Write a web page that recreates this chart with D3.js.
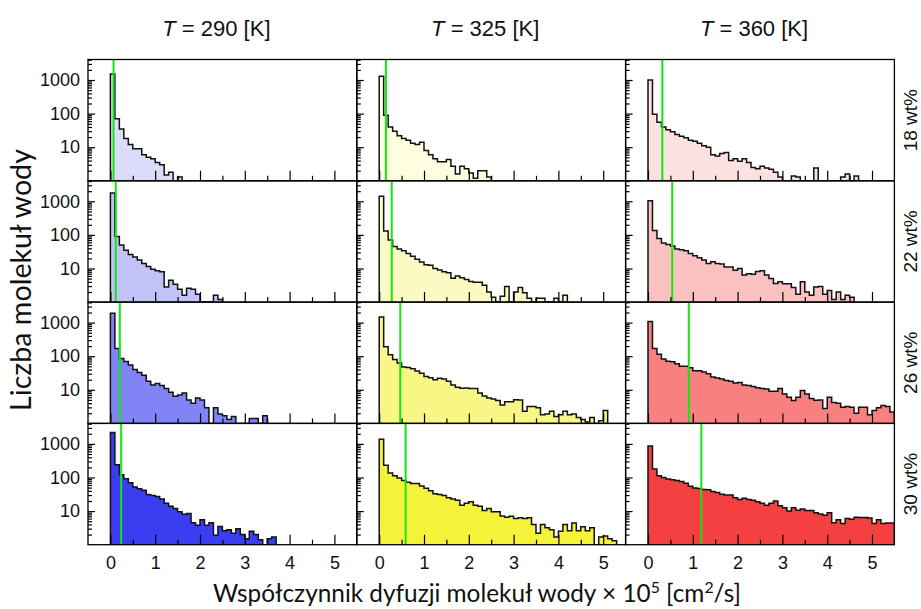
<!DOCTYPE html>
<html>
<head>
<meta charset="utf-8">
<script src="https://cdn.jsdelivr.net/npm/d3@7"></script>
<style>
  body { margin: 0; background: #fff; }
</style>
</head>
<body>
<svg id="chart" width="921" height="609"></svg>
<script>
// Dane: temperatury (kolumny), stężenia (wiersze)
const temps = ["290", "325", "360"];
const concentrations = ["18 wt%", "22 wt%", "26 wt%", "30 wt%"];
const binWidth = 0.1;
const xTicks = [0, 1, 2, 3, 4, 5];
const xMinorTicks = [0.5, 1.5, 2.5, 3.5, 4.5];
const yTicks = [10, 100, 1000];
const yMinorTicks = [2, 3, 4, 5, 6, 7, 8, 9, 20, 30, 40, 50, 60, 70, 80, 90,
  200, 300, 400, 500, 600, 700, 800, 900, 2000, 3000, 4000];

// liczba molekuł w kolejnych przedziałach (od 0, co 0.1)
const h18_290 = [1500, 70, 35, 18, 12, 9, 9, 6, 5, 4.5, 3.5, 3, 1.5, 1.8, 1, 1.3];
const h18_325 = [1300, 90, 40, 30, 22, 18, 16, 13, 12, 14, 8, 6, 4.5, 3.7, 3.7, 4.3, 2.7, 1.6, 2.7, 2.3,
  1.7, 1.2, 2, 2, 1.3];
const h18_360 = [1000, 95, 55, 40, 33, 29, 24, 21, 19, 16, 15, 13, 11, 10, 6, 5.5, 6.5, 7, 4, 4.5,
  3.8, 4.5, 3.5, 2.5, 2.3, 2.7, 2.4, 2.2, 1.8, 1.3, 0, 0, 1.4, 1.3, 0, 0, 0, 2.4, 0, 0,
  0, 0, 0, 1.3, 1.6, 0, 1.4];
const h22_290 = [1770, 90, 50, 35, 26, 22, 18, 14, 11.5, 9.5, 8.5, 8, 2.8, 4.5, 3.4, 2.4, 1.6, 2.6, 2.4, 1.7,
  0, 0, 0, 1.6, 1.2];
const h22_325 = [1410, 130, 70, 45, 38, 34, 28, 23, 19, 15.5, 13, 12.5, 10, 9, 8, 7.5, 5.1, 6, 5.3, 4.7,
  4.1, 3.9, 3.9, 3.2, 2, 1.4, 0, 1.5, 2.9, 1, 2, 2.7, 1.9, 1.3, 0, 1.3, 1.3, 0, 0, 1.3,
  0, 1.6];
const h22_360 = [1040, 135, 78, 57, 52, 47, 38, 36, 34, 28, 24, 21, 18, 14, 16, 14, 13.5, 11, 11, 8.8,
  10, 6.4, 7, 6.8, 8.2, 8.5, 6.4, 5, 3.6, 4, 3.5, 3.5, 2.7, 1.7, 4, 2, 1.6, 2.8, 2.9, 1.7,
  2.2, 1.2, 2, 1.2, 1.6, 1.4];
const h26_290 = [1900, 170, 85, 70, 55, 40, 33, 27, 18, 14, 15.5, 13.5, 11, 8.5, 6.4, 7, 8, 5, 4, 5.7,
  5, 2.9, 1, 2.9, 1.9, 1.7, 1.3, 1.6, 0, 0, 0, 1.4, 1.4, 0, 1.7];
const h26_325 = [1470, 190, 110, 80, 63, 48, 46, 42, 36, 31, 25, 23, 20, 22, 21, 18, 14, 12, 11.2, 11.4,
  11, 11, 8, 6.5, 5.7, 5.3, 4.8, 3.5, 4.4, 4.4, 5.1, 5, 2.3, 3.2, 3.2, 2.9, 1.8, 1.9, 2.3, 1.6,
  1.8, 2.3, 1.8, 1.9, 1.5, 1.3, 1.1, 1.5, 1, 1.2, 2.4];
const h26_360 = [1070, 170, 115, 82, 71, 68, 60, 50, 50, 45, 37, 37, 34, 30, 24, 22.5, 21, 19, 18, 16,
  16.5, 14, 13.5, 12.5, 11.5, 11, 10.5, 9, 9, 11, 7.5, 6, 4.8, 6, 9.5, 7.5, 5.5, 4.9, 5, 2.8,
  6, 4.2, 4, 3, 3.2, 3, 2, 3, 3, 1.8, 2.4, 2.9, 3.4, 3.2, 2.2];
const h30_290 = [2170, 240, 120, 92, 70, 52, 46, 42, 31, 29, 27, 23, 17, 14, 12, 9.5, 8, 8.5, 4.5, 3.8,
  5.5, 3.8, 4.5, 1.9, 3.5, 2.6, 2.8, 2.2, 3, 2, 1.5, 2.5, 2, 1.4, 0, 1.5, 1.7];
const h30_325 = [1370, 230, 135, 112, 97, 82, 72, 66, 66, 56, 48, 40, 33, 31, 29, 25, 23, 21, 15, 17,
  19, 15, 14, 10.5, 12, 9.5, 9.5, 7.2, 6.6, 7, 6, 6.3, 6, 6.3, 4, 2.2, 4, 3.2, 2.8, 1.7,
  2.5, 4, 2.6, 4.4, 2.6, 3.4, 2.6, 3.2, 1, 1.7, 1.8, 1.5, 1.3];
const h30_360 = [870, 180, 112, 100, 90, 85, 82, 76, 68, 55, 49, 47, 44, 43, 38, 36, 32, 30, 30, 25,
  22, 24, 22, 21, 19, 17, 15, 17, 20, 14.5, 12.5, 10, 12.5, 10.6, 11.5, 10.5, 10.5, 9, 8.2, 7.5,
  9, 4.5, 5.5, 4.3, 6, 5.7, 6.6, 6.5, 6.5, 6.2, 4.3, 5.5, 4.3, 4.4, 4.4];

// średni współczynnik dyfuzji (zielona linia)
const mean18 = [0.07, 0.15, 0.32];
const mean22 = [0.12, 0.28, 0.54];
const mean26 = [0.21, 0.47, 0.91];
const mean30 = [0.24, 0.59, 1.19];

const histograms = [
  [h18_290, h18_325, h18_360],
  [h22_290, h22_325, h22_360],
  [h26_290, h26_325, h26_360],
  [h30_290, h30_325, h30_360]
];
const means = [mean18, mean22, mean26, mean30];

// kolory wypełnienia
const fills = [
  ["#dadcf9", "#fdfde0", "#fde0e0"],
  ["#c0c2f8", "#fbfac2", "#fbc0c0"],
  ["#8084f4", "#f8f685", "#f88080"],
  ["#3a3ef0", "#f5f23a", "#f44040"]
];

const FONT = "'Liberation Sans', Arial, Helvetica, sans-serif";
const svg = d3.select("#chart");

const panelLeft = 88, panelTop = 59.5;
const pw = 268.8, ph = 121.3;

const x = d3.scaleLinear().domain([-0.5, 5.5]).range([0, pw]);
const y = d3.scaleLog().domain([1, Math.pow(10, 3.61)]).range([ph, 0]);

const area = d3.area()
  .x(d => x(d.x))
  .y0(ph)
  .y1(d => y(Math.max(d.c, 1)))
  .curve(d3.curveStepAfter);

const line = d3.line()
  .x(d => x(d.x))
  .y(d => y(Math.max(d.c, 1)))
  .curve(d3.curveStepAfter);

function styleAxis(a) {
  a.select(".domain").remove();
  a.selectAll(".tick line").attr("stroke", "#000").attr("stroke-width", 1.2);
  a.selectAll(".tick text").attr("fill", "#111");
  a.attr("font-family", FONT).attr("font-size", 18);
}

histograms.forEach((row, r) => {
  row.forEach((counts, c) => {
    const g = svg.append("g")
      .attr("transform", `translate(${panelLeft + c * pw},${panelTop + r * ph})`);

    const clipId = `clip-${r}-${c}`;
    g.append("clipPath").attr("id", clipId)
      .append("rect").attr("width", pw).attr("height", ph);

    const pts = [{x: 0, c: 1}]
      .concat(counts.map((v, i) => ({x: i * binWidth, c: v})))
      .concat([{x: counts.length * binWidth, c: 1}]);

    const plot = g.append("g").attr("clip-path", `url(#${clipId})`);
    plot.append("path")
      .datum(pts)
      .attr("d", area)
      .attr("fill", fills[r][c]);
    plot.append("path")
      .datum(pts)
      .attr("d", line)
      .attr("fill", "none")
      .attr("stroke", "#111")
      .attr("stroke-width", 1.5);

    // średnia
    plot.append("line")
      .attr("x1", x(means[r][c])).attr("x2", x(means[r][c]))
      .attr("y1", 0).attr("y2", ph)
      .attr("stroke", "#14e614")
      .attr("stroke-width", 2);

    // osie
    g.append("g")
      .attr("transform", `translate(0,${ph})`)
      .call(d3.axisBottom(x).tickValues(xTicks).tickSize(-10).tickPadding(12)
        .tickFormat(r === 3 ? d3.format("d") : ""))
      .call(styleAxis);
    g.append("g")
      .attr("transform", `translate(0,${ph})`)
      .call(d3.axisBottom(x).tickValues(xMinorTicks).tickSize(-5).tickFormat(""))
      .call(styleAxis);
    g.append("g")
      .call(d3.axisLeft(y).tickValues(yTicks).tickSize(-7).tickPadding(8)
        .tickFormat(c === 0 ? d3.format("d") : ""))
      .call(styleAxis);
    g.append("g")
      .call(d3.axisLeft(y).tickValues(yMinorTicks.filter(v => v <= y.domain()[1]))
        .tickSize(-4).tickFormat(""))
      .call(styleAxis);

    g.append("rect")
      .attr("width", pw).attr("height", ph)
      .attr("fill", "none")
      .attr("stroke", "#000")
      .attr("stroke-width", 1.3);
  });
});

// tytuły kolumn
temps.forEach((t, c) => {
  const txt = svg.append("text")
    .attr("x", panelLeft + c * pw + pw / 2 - 6)
    .attr("y", 36)
    .attr("text-anchor", "middle")
    .attr("font-family", FONT)
    .attr("font-size", 22)
    .attr("fill", "#111");
  txt.append("tspan").attr("font-style", "italic").text("T");
  txt.append("tspan").text(` = ${t} [K]`);
});

// etykiety wierszy
concentrations.forEach((s, r) => {
  svg.append("text")
    .attr("transform", `translate(917,${panelTop + r * ph + ph / 2}) rotate(-90)`)
    .attr("text-anchor", "middle")
    .attr("font-family", FONT)
    .attr("font-size", 19)
    .attr("fill", "#111")
    .text(s);
});

// tytuły osi
const TITLE_FONT = "Lato, 'Open Sans', 'Noto Sans', sans-serif";
const yTitle = svg.append("text")
  .attr("transform", "translate(31,280) rotate(-90)")
  .attr("text-anchor", "middle")
  .attr("font-family", TITLE_FONT)
  .attr("font-size", 24)
  .attr("fill", "#111")
  .text("Liczba molekuł wody");
const yLen = yTitle.node().getComputedTextLength();
yTitle.attr("font-size", 24 * 262 / yLen);

const xTitle = svg.append("text")
  .attr("x", 477)
  .attr("y", 602)
  .attr("text-anchor", "middle")
  .attr("font-family", TITLE_FONT)
  .attr("font-size", 24)
  .attr("fill", "#111");
xTitle.append("tspan").text("Współczynnik dyfuzji molekuł wody × 10");
xTitle.append("tspan").attr("dy", -9).attr("font-size", "0.65em").text("5");
xTitle.append("tspan").attr("dy", 9).text(" [cm");
xTitle.append("tspan").attr("dy", -9).attr("font-size", "0.65em").text("2");
xTitle.append("tspan").attr("dy", 9).text("/s]");
const xLen = xTitle.node().getComputedTextLength();
xTitle.attr("font-size", 24 * 528 / xLen);
</script>
</body>
</html>
